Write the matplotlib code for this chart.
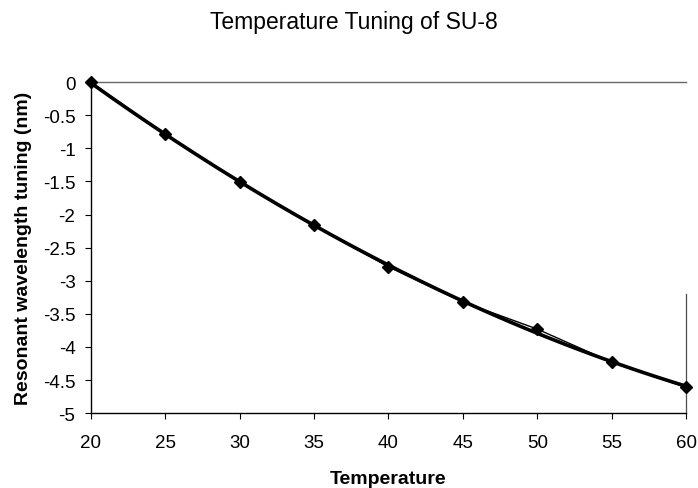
import numpy as np
import matplotlib
matplotlib.use("Agg")
import matplotlib.pyplot as plt

# measured tuning at each temperature
temperature = [20, 25, 30, 35, 40, 45, 50, 55, 60]
tuning = [0.0, -0.79, -1.51, -2.16, -2.79, -3.32, -3.73, -4.23, -4.61]

plt.rcParams['font.family'] = ['Liberation Sans', 'DejaVu Sans']

fig = plt.figure(figsize=(6.98, 4.89), dpi=100)
ax = fig.add_axes([0.130, 0.153, 0.853, 0.677])

# polynomial trend line (like the spreadsheet trendline)
coef = np.polyfit(temperature, tuning, 2)
xs = np.linspace(temperature[0], temperature[-1], 200)
ax.plot(xs, np.polyval(coef, xs), color='black', lw=2.6, zorder=2)
ax.plot(temperature, tuning, color='black', lw=1.0, marker='D', ms=6,
        zorder=3, clip_on=False)

ax.set_xlim(20, 60)
ax.set_ylim(-5, 0)
ax.set_xticks(temperature)
ax.set_yticks(np.arange(0, -5.5, -0.5))
ax.set_yticklabels(['0', '-0.5', '-1', '-1.5', '-2', '-2.5', '-3', '-3.5',
                    '-4', '-4.5', '-5'])
ax.tick_params(axis='both', direction='out', length=4, width=0.8,
               labelsize=13.5)
ax.tick_params(axis='y', pad=7)
ax.tick_params(axis='x', pad=11)

for s in ['left', 'bottom']:
    ax.spines[s].set_color('black')
    ax.spines[s].set_linewidth(1.0)
ax.spines['top'].set_color('0.4')
ax.spines['top'].set_linewidth(1.0)
# right frame line only survives on the lower part of the scan
ax.spines['right'].set_color('0.3')
ax.spines['right'].set_linewidth(0.9)
ax.spines['right'].set_bounds(-5, -3.2)

ax.set_xlabel('Temperature', fontsize=14, fontweight='bold', labelpad=14)
ax.set_ylabel('Resonant wavelength tuning (nm)', fontsize=14,
              fontweight='bold', labelpad=8)
fig.text(0.507, 0.953, 'Temperature Tuning of SU-8', fontsize=16.5,
         ha='center', va='center')

fig.savefig('out.png', dpi=100)
